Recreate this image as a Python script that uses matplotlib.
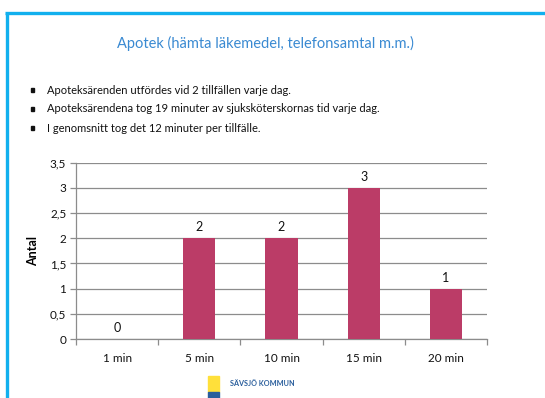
import matplotlib
matplotlib.use("Agg")
import matplotlib.pyplot as plt
from matplotlib.patches import Rectangle
from matplotlib.lines import Line2D
from matplotlib.ticker import FuncFormatter, FixedLocator

plt.rcParams['font.family'] = ['Lato', 'DejaVu Sans']

categories = ["1 min", "5 min", "10 min", "15 min", "20 min"]
counts = [0, 2, 2, 3, 1]
title = "Apotek (hämta läkemedel, telefonsamtal m.m.)"
bullets = [
    "Apoteksärenden utfördes vid 2 tillfällen varje dag.",
    "Apoteksärendena tog 19 minuter av sjuksköterskornas tid varje dag.",
    "I genomsnitt tog det 12 minuter per tillfälle.",
]
y_ticks = [0, 0.5, 1, 1.5, 2, 2.5, 3, 3.5]

W, H = 545, 398
fig = plt.figure(figsize=(W / 100, H / 100), dpi=100)
fig.patch.set_facecolor("white")

def fx(px):
    return px / W

def fy(py):
    return 1 - py / H

border = "#12b0ee"
fig.add_artist(Line2D([fx(6.5), fx(6.5)], [fy(12.5), fy(400)], color=border, lw=2.4,
                      transform=fig.transFigure, solid_capstyle="butt"))
fig.add_artist(Line2D([fx(5.3), fx(546)], [fy(12.5), fy(12.5)], color=border, lw=2.4,
                      transform=fig.transFigure, solid_capstyle="butt"))

fig.text(fx(265), fy(43), title, color="#3a8ad2", fontsize=10.5,
         ha="center", va="center")

for i, line in enumerate(bullets):
    y = fy(90 + i * 19)
    fig.add_artist(Rectangle((fx(31), y - 1.6 / H), 3.2 / W, 3.2 / H, transform=fig.transFigure,
                             color="#111111"))
    fig.text(fx(47), y, line, fontsize=8, ha="left", va="center", color="#111111")

ax = fig.add_axes([fx(76), fy(339), fx(487) - fx(76), fy(162.7) - fy(339)])
x = list(range(len(categories)))
bars = ax.bar(x, counts, width=0.39, color="#bb3c67", zorder=3)
for xi, v in zip(x, counts):
    ax.text(xi, v + 0.1, f"{v}", ha="center", va="bottom", fontsize=9, color="#111111")

ax.set_xlim(-0.5, len(categories) - 0.5)
ax.set_ylim(0, 3.5)
ax.yaxis.set_major_locator(FixedLocator(y_ticks))
ax.yaxis.set_major_formatter(FuncFormatter(
    lambda v, p: (f"{v:g}").replace(".", ",")))
ax.set_xticks(x)
ax.set_xticklabels(categories)
ax.set_xticks([i - 0.5 for i in range(len(categories) + 1)], minor=True)
ax.tick_params(axis="x", which="major", length=0, pad=10, labelsize=8.5, labelcolor="#111111")
ax.tick_params(axis="x", which="minor", length=4, color="#8c8c8c", width=0.9)
ax.tick_params(axis="y", length=4, color="#8c8c8c", width=0.9, labelsize=8.5,
               labelcolor="#111111", pad=3)
ax.grid(axis="y", color="#8c8c8c", lw=0.9, zorder=0)
for s in ["top", "right"]:
    ax.spines[s].set_visible(False)
for s in ["left", "bottom"]:
    ax.spines[s].set_color("#8c8c8c")
    ax.spines[s].set_linewidth(0.9)
ax.set_ylabel("Antal", fontsize=9, fontweight="bold", labelpad=8)

# municipality logo
fig.add_artist(Rectangle((fx(208), fy(392)), 11 / W, 16 / H, transform=fig.transFigure,
                         color="#ffe03a"))
fig.add_artist(Rectangle((fx(208), fy(398)), 11 / W, 6 / H, transform=fig.transFigure,
                         color="#2a5e9c"))
fig.text(fx(230), fy(383), "SÄVSJÖ KOMMUN", fontsize=5.2, fontweight="bold",
         color="#2a5e9c", ha="left", va="center")

fig.savefig("out.png", dpi=100)
